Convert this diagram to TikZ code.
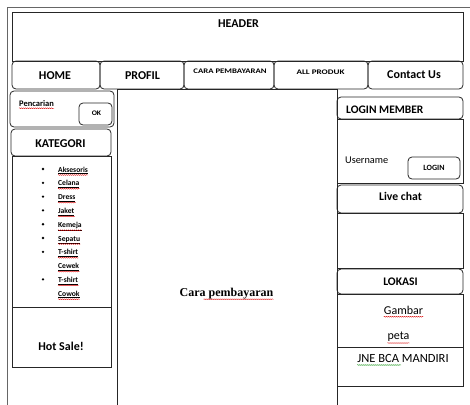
\documentclass[tikz,border=0pt]{standalone}
\usepackage{fontspec}
\setmainfont{Carlito}
\newfontfamily\serifb{Liberation Serif}
\usetikzlibrary{decorations.pathmorphing}
\begin{document}
\begin{tikzpicture}[x=1pt,y=-1pt,
  box/.style={draw=black!85,line width=0.8pt},
  rbox/.style={box,rounded corners=4pt},
  frame/.style={draw=black!60,line width=0.6pt},
  txt/.style={inner sep=0pt,anchor=base},
  bt/.style={txt,font=\bfseries\fontsize{12}{14}\selectfont},
  small/.style={txt,font=\bfseries\fontsize{7}{8}\selectfont},
  cat/.style={txt,anchor=base west,font=\bfseries\fontsize{7.6}{9}\selectfont},
  spell/.style={draw=red!85!black,line width=0.35pt,decorate,decoration={snake,amplitude=0.45pt,segment length=2pt}},
  gspell/.style={spell,draw=green!55!black},
  bullet/.style={circle,fill=black,inner sep=0pt,minimum size=2.6pt}]
\useasboundingbox (0,0) rectangle (470,404);
\clip (0,0) rectangle (470,404);
% outer frame
\draw[frame] (7,410) -- (7,7) -- (475,7);
% header
\draw[box] (12,12.5) rectangle (463,61);
\node[bt] (header) at (238.5,28) {HEADER};
% nav
\draw[rbox] (12,61) rectangle (100,89);
\draw[rbox] (100,61) rectangle (184,89);
\draw[rbox] (184,61) rectangle (274,89);
\draw[rbox] (274,61) rectangle (368,89);
\draw[rbox] (368,61) rectangle (463,89);
\node[bt] (home) at (55,79) {HOME};
\node[bt] (profil) at (142.5,79) {PROFIL};
\node[small] (cara) at (230,73.3) {\scalebox{1.25}[1]{CARA PEMBAYARAN}};
\node[small] (allp) at (320.5,74) {\scalebox{1.3}[1]{ALL PRODUK}};
\node[bt] (contact) at (414,78) {Contact Us};
% center
\draw[box] (117,410) -- (117,89) -- (337,89) -- (337,410);
\node[txt,font=\serifb\bfseries\fontsize{12}{14}\selectfont] (cp) at (226.5,296.7) {Cara pembayaran};
\draw[spell] ([xshift=-70pt,yshift=-2.5pt]cp.base east) -- ([yshift=-2.5pt]cp.base east);
% left column
\draw[rbox] (10,91) rectangle (114,127);
\node[txt,anchor=base west,font=\bfseries\fontsize{8.5}{10}\selectfont] (pen) at (19,106) {Pencarian};
\draw[spell] ([yshift=-2.2pt]pen.base west) -- ([yshift=-2.2pt]pen.base east);
\draw[rbox] (79,103) rectangle (112,125);
\node[small] (ok) at (96.5,115.5) {\scalebox{1.1}[1]{OK}};
\draw[rbox] (11,129) rectangle (111,156);
\node[bt] (kat) at (60.5,147) {KATEGORI};
\draw[box] (12,156) rectangle (111,307);
\foreach \t/\b [count=\i from 0] in {Aksesoris/1,Celana/1,Dress/1,Jaket/1,Kemeja/1,Sepatu/1,T-shirt/1,Cewek/0,T-shirt/1,Cowok/0}{
  \node[cat] (c\i) at (58,{172+13.8*\i}) {\underline{\t}};
  \draw[spell] ([yshift=-3pt]c\i.base west) -- ([yshift=-3pt]c\i.base east);
  \ifnum\b=1 \node[bullet] (b\i) at (43,{169+13.8*\i}) {};\fi
}
\draw[box] (12,307) rectangle (111,367);
\node[bt] (hot) at (61,350) {Hot Sale!};
% right column
\draw[rbox] (337,97) rectangle (463,119);
\node[bt,anchor=base west,font=\bfseries\fontsize{11.5}{13}\selectfont] (lm) at (346,113.3) {LOGIN MEMBER};
\draw[box] (337,119) rectangle (463,183);
\node[txt,anchor=base west,font=\fontsize{10.3}{12}\selectfont] (user) at (345,163.3) {Username};
\draw[rbox] (408,157) rectangle (460,179);
\node[txt,font=\bfseries\fontsize{8}{9}\selectfont] (login) at (434,170.5) {LOGIN};
\draw[rbox] (337,185) rectangle (463,213);
\node[bt,font=\bfseries\fontsize{11.7}{13}\selectfont] (live) at (400.5,200.7) {Live chat};
\draw[box] (337,213) rectangle (463,268);
\draw[rbox] (337,269) rectangle (463,294);
\node[bt,font=\bfseries\fontsize{11.6}{13}\selectfont] (lok) at (400.5,285) {LOKASI};
\draw[box] (337,294) rectangle (463,347);
\node[txt,font=\fontsize{12}{14}\selectfont] (gam) at (403.5,314.3) {Gambar};
\draw[spell] ([yshift=-2.5pt]gam.base west) -- ([yshift=-2.5pt]gam.base east);
\node[txt,font=\fontsize{12}{14}\selectfont] (peta) at (398.5,339) {peta};
\draw[spell] ([yshift=-4pt]peta.base west) -- ([yshift=-4pt]peta.base east);
\draw[box] (337,347) rectangle (463,386);
\node[txt,font=\fontsize{12.5}{14}\selectfont] (jne) at (403,362.5) {JNE BCA MANDIRI};
\draw[gspell] ([yshift=-2.5pt]jne.base west) -- ([xshift=44pt,yshift=-2.5pt]jne.base west);
\end{tikzpicture}
\end{document}
